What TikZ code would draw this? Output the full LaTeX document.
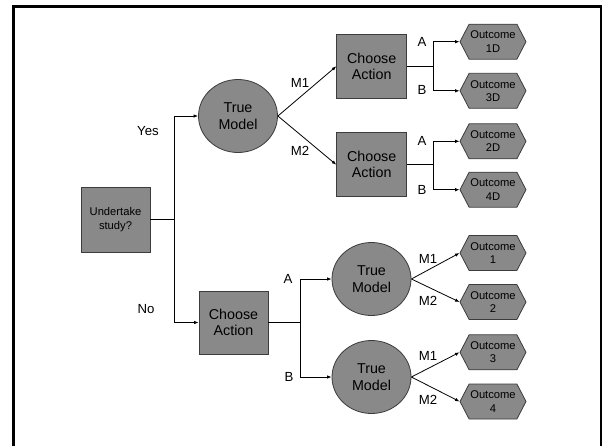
\documentclass[tikz,border=0pt]{standalone}
\usepackage{fontspec}
\setmainfont{Liberation Sans}
\usetikzlibrary{shapes.geometric,shapes.symbols,arrows.meta}

\definecolor{shapefill}{RGB}{137,137,137}
\definecolor{shapeedge}{RGB}{60,60,60}

\tikzset{
  decision/.style={rectangle, draw=shapeedge, fill=shapefill, line width=0.8pt,
    minimum width=70pt, minimum height=64pt, inner sep=0pt, align=center,
    font=\fontsize{14.3}{16.3}\selectfont},
  chance/.style={ellipse, draw=shapeedge, fill=shapefill, line width=0.8pt,
    minimum width=79pt, minimum height=73pt, inner sep=0pt, align=center,
    font=\fontsize{14.3}{16.3}\selectfont},
  smalldecision/.style={decision, minimum width=69pt, minimum height=65pt,
    font=\fontsize{11.2}{13.3}\selectfont},
  outcome/.style={signal, signal to=west and east, signal pointer angle=125,
    draw=shapeedge, fill=shapefill, line width=0.8pt,
    minimum width=66pt, minimum height=35pt, inner sep=0pt, align=center,
    font=\fontsize{11.2}{13.3}\selectfont},
  branch/.style={line width=0.8pt, draw=black},
  arrowed/.style={branch, -{Latex[length=4.5pt,width=3.5pt]}},
  tag/.style={font=\fontsize{13.2}{15}\selectfont, inner sep=0pt}
}

\begin{document}
\begin{tikzpicture}[x=1pt, y=-1pt]
  \useasboundingbox (0,0) rectangle (602,445);
  \clip (0,0) rectangle (602,445);

  % outer frame, running past the lower edge
  \draw[line width=3pt] (13.5,460) -- (13.5,6) -- (601,6) -- (601,460);

  % first decision
  \node[smalldecision] (und) at (115.5,219.5) {Undertake\\study?};

  % study branch
  \node[chance] (tmY) at (238,116) {True\\Model};
  \node[decision] (caY1) at (371.7,66.3) {Choose\\Action};
  \node[decision] (caY2) at (371.7,164.7) {Choose\\Action};

  % no-study branch
  \node[decision, minimum width=69pt, minimum height=63pt] (caN) at (233.5,322.5) {Choose\\Action};
  \node[chance] (tmA) at (371.5,279) {True\\Model};
  \node[chance] (tmB) at (371.5,377) {True\\Model};

  % outcomes
  \node[outcome] (o1D) at (493,41.7)  {Outcome\\1D};
  \node[outcome] (o3D) at (493,90.8)  {Outcome\\3D};
  \node[outcome] (o2D) at (493,141.3) {Outcome\\2D};
  \node[outcome] (o4D) at (493,189.7) {Outcome\\4D};
  \node[outcome] (o1)  at (493,253)   {Outcome\\1};
  \node[outcome] (o2)  at (493,302)   {Outcome\\2};
  \node[outcome] (o3)  at (493,352.3) {Outcome\\3};
  \node[outcome] (o4)  at (493,401.5) {Outcome\\4};

  % junction points of the elbow connectors
  \coordinate (j0) at (174.7,219.5);
  \coordinate (j1) at (300,322.5);
  \coordinate (j2) at (433.3,66.3);
  \coordinate (j3) at (433.3,164.7);

  % connectors
  \draw[branch] (und.east) -- (j0);
  \draw[arrowed] (j0) |- (tmY.west);
  \draw[arrowed] (j0) |- (caN.west);

  \draw[arrowed] (tmY.east) -- (caY1.west);
  \draw[arrowed] (tmY.east) -- (caY2.west);

  \draw[branch] (caY1.east) -- (j2);
  \draw[arrowed] (j2) |- (o1D.west);
  \draw[arrowed] (j2) |- (o3D.west);
  \draw[branch] (caY2.east) -- (j3);
  \draw[arrowed] (j3) |- (o2D.west);
  \draw[arrowed] (j3) |- (o4D.west);

  \draw[branch] (caN.east) -- (j1);
  \draw[arrowed] (j1) |- (tmA.west);
  \draw[arrowed] (j1) |- (tmB.west);

  \draw[arrowed] (tmA.east) -- (o1.west);
  \draw[arrowed] (tmA.east) -- (o2.west);
  \draw[arrowed] (tmB.east) -- (o3.west);
  \draw[arrowed] (tmB.east) -- (o4.west);

  % branch labels
  \node[tag] (lYes) at (148,131.5) {Yes};
  \node[tag] (lNo)  at (146,309) {No};
  \node[tag] (lM1a) at (300,83) {M1};
  \node[tag] (lM2a) at (300,151) {M2};
  \node[tag] (lA1)  at (422,41.7) {A};
  \node[tag] (lB1)  at (422,90.3) {B};
  \node[tag] (lA2)  at (422,141) {A};
  \node[tag] (lB2)  at (422,189.5) {B};
  \node[tag] (lA3)  at (288,279) {A};
  \node[tag] (lB3)  at (289,377) {B};
  \node[tag] (lM1b) at (428,259.3) {M1};
  \node[tag] (lM2b) at (428,300.7) {M2};
  \node[tag] (lM1c) at (428,355.7) {M1};
  \node[tag] (lM2c) at (428,400) {M2};
\end{tikzpicture}
\end{document}
